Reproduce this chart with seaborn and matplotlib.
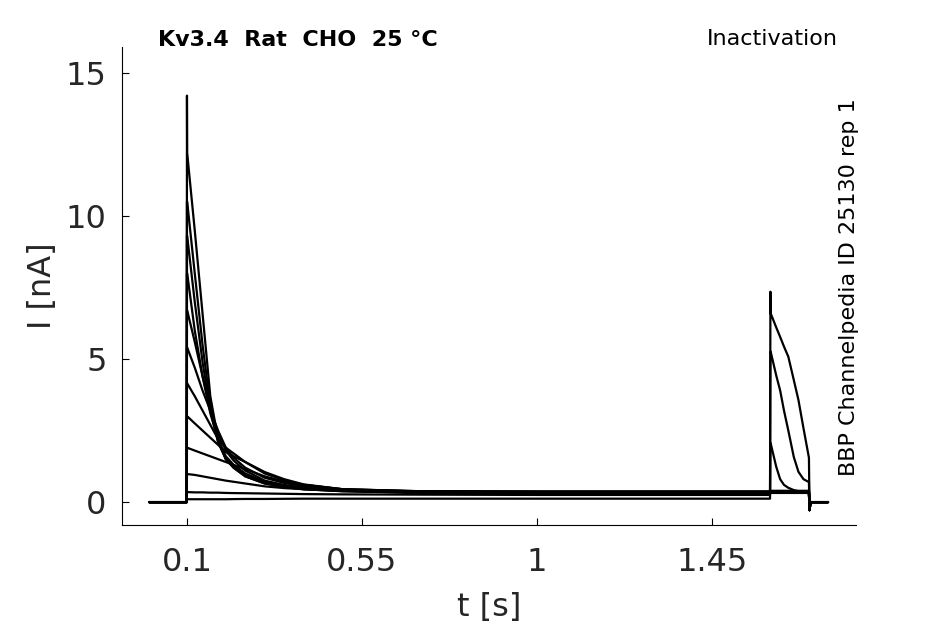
import numpy as np
import pandas as pd
import matplotlib
matplotlib.use("Agg")
import matplotlib.pyplot as plt
import seaborn as sns

# Kv3.4 inactivation protocol, currents in nA
trace_names = ["A", "B", "C", "D", "E", "F", "G", "H", "I", "J", "K", "L"]

# holding before the prepulse
t_hold = [0.003, 0.0995]
hold_current = [0.0, 0.0]

# prepulse (first value is the capacitive spike / peak)
t_prepulse = [0.1, 0.1005, 0.12, 0.14, 0.16, 0.18, 0.2, 0.22, 0.25, 0.3, 0.35, 0.4,
              0.5, 0.7, 1.0, 1.3, 1.599]
prepulse_currents = [
    [14.2, 12.2, 9.5, 6.6, 3.7, 2.2, 1.5, 1.2, 0.9, 0.65, 0.53, 0.45, 0.38, 0.32, 0.30, 0.30, 0.30],
    [10.5, 10.5, 8.0, 5.5, 3.4, 2.1, 1.5, 1.2, 0.9, 0.65, 0.53, 0.45, 0.38, 0.33, 0.32, 0.32, 0.32],
    [9.3, 9.3, 7.0, 4.9, 3.2, 2.1, 1.5, 1.22, 0.95, 0.68, 0.55, 0.47, 0.40, 0.34, 0.33, 0.33, 0.33],
    [8.0, 8.0, 6.0, 4.4, 3.1, 2.2, 1.6, 1.3, 1.0, 0.70, 0.57, 0.48, 0.40, 0.35, 0.35, 0.35, 0.35],
    [6.7, 6.7, 5.6, 4.4, 3.3, 2.4, 1.8, 1.45, 1.1, 0.75, 0.60, 0.50, 0.42, 0.36, 0.34, 0.34, 0.34],
    [5.4, 5.4, 4.7, 3.9, 3.2, 2.5, 1.9, 1.55, 1.2, 0.85, 0.67, 0.55, 0.43, 0.37, 0.36, 0.36, 0.36],
    [4.15, 4.15, 3.7, 3.2, 2.7, 2.2, 1.9, 1.7, 1.4, 1.0, 0.77, 0.60, 0.45, 0.38, 0.37, 0.37, 0.37],
    [3.0, 3.0, 2.75, 2.5, 2.25, 2.0, 1.75, 1.6, 1.4, 1.05, 0.80, 0.62, 0.45, 0.38, 0.37, 0.37, 0.37],
    [1.9, 1.9, 1.8, 1.7, 1.6, 1.5, 1.4, 1.3, 1.15, 0.9, 0.72, 0.60, 0.45, 0.37, 0.35, 0.35, 0.35],
    [0.98, 0.98, 0.95, 0.9, 0.85, 0.8, 0.75, 0.71, 0.65, 0.55, 0.49, 0.45, 0.40, 0.33, 0.30, 0.30, 0.30],
    [0.35, 0.35, 0.34, 0.34, 0.33, 0.33, 0.32, 0.315, 0.31, 0.30, 0.29, 0.28, 0.27, 0.26, 0.25, 0.25, 0.25],
    [0.10, 0.10, 0.10, 0.10, 0.10, 0.10, 0.10, 0.105, 0.11, 0.11, 0.115, 0.12, 0.12, 0.12, 0.12, 0.12, 0.12],
]

# test pulse
t_test = [1.6, 1.6005, 1.615, 1.625, 1.635, 1.646, 1.66, 1.672, 1.685, 1.699]
test_currents = [
    [0.32, 0.32, 0.32, 0.32, 0.32, 0.32, 0.32, 0.32, 0.32, 0.32],
    [0.34, 0.34, 0.34, 0.34, 0.34, 0.34, 0.34, 0.34, 0.34, 0.34],
    [0.35, 0.35, 0.35, 0.35, 0.35, 0.35, 0.35, 0.35, 0.35, 0.35],
    [0.37, 0.37, 0.37, 0.37, 0.37, 0.37, 0.37, 0.37, 0.37, 0.37],
    [0.36, 0.36, 0.36, 0.36, 0.36, 0.36, 0.36, 0.36, 0.36, 0.36],
    [0.38, 0.38, 0.38, 0.38, 0.38, 0.38, 0.38, 0.38, 0.38, 0.38],
    [0.39, 0.39, 0.39, 0.39, 0.39, 0.39, 0.39, 0.39, 0.39, 0.39],
    [0.39, 0.39, 0.39, 0.39, 0.39, 0.39, 0.39, 0.39, 0.39, 0.39],
    [0.37, 0.37, 0.37, 0.37, 0.37, 0.37, 0.37, 0.37, 0.37, 0.37],
    [2.06, 2.06, 1.23, 0.80, 0.60, 0.50, 0.42, 0.38, 0.35, 0.33],
    [5.26, 5.26, 4.42, 3.90, 3.19, 2.50, 1.58, 1.06, 0.80, 0.70],
    [7.35, 6.60, 6.10, 5.77, 5.43, 5.08, 4.27, 3.57, 2.58, 1.55],
]

# tail after the test pulse
t_tail = [1.7005, 1.703, 1.748]
tail_current = [-0.28, 0.0, 0.0]

rows = []
for i, name in enumerate(trace_names):
    tt = t_hold + t_prepulse + t_test + t_tail
    ii = hold_current + prepulse_currents[i] + test_currents[i] + tail_current
    for t, c in zip(tt, ii):
        rows.append({"trace": name, "t": t, "I": c})
df = pd.DataFrame(rows)

sns.set_theme(style="ticks")
plt.rcParams["font.family"] = ["DejaVu Sans"]

fig = plt.figure(figsize=(9.45, 6.24), dpi=100)
ax = fig.add_axes([122 / 945, 1 - 525 / 624, (856 - 122) / 945, (525 - 47) / 624])

sns.lineplot(data=df, x="t", y="I", units="trace", estimator=None, sort=False,
             color="black", linewidth=1.6, ax=ax, legend=False)

ax.set_xlim(-0.067, 1.82)
ax.set_ylim(-0.8, 15.9)
ax.set_xticks([0.1, 0.55, 1, 1.45])
ax.set_xticklabels(["0.1", "0.55", "1", "1.45"])
ax.set_yticks([0, 5, 10, 15])
ax.set_yticklabels(["0", "5", "10", "15"])
ax.tick_params(direction="in", length=5, width=0.8, labelsize=23, colors="black",
               labelcolor="#262626")
ax.tick_params(axis="x", pad=16)
ax.tick_params(axis="y", pad=11)
ax.set_xlabel("t [s]", fontsize=23, color="#262626", labelpad=10)
ax.set_ylabel("I [nA]", fontsize=23, color="#262626", labelpad=6)
sns.despine(ax=ax)
for side in ["left", "bottom"]:
    ax.spines[side].set_linewidth(0.8)
    ax.spines[side].set_color("black")

fig.text(158 / 945, 1 - 40 / 624, "Kv3.4  Rat  CHO  25 °C", fontsize=16,
         fontweight="bold", color="black", ha="left", va="center")
fig.text(838 / 945, 1 - 39 / 624, "Inactivation", fontsize=16, color="black",
         ha="right", va="center")
fig.text(849 / 945, 1 - 287 / 624, "BBP Channelpedia ID 25130 rep 1", fontsize=16,
         color="black", rotation=90, ha="center", va="center")

fig.savefig("out.png", dpi=100)
